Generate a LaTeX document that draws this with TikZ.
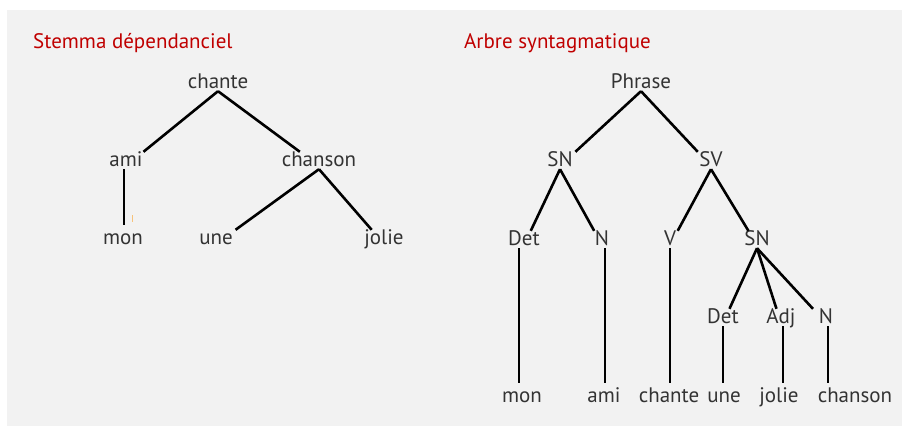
\documentclass[tikz,border=0pt]{standalone}
\usepackage{fontspec}
\setmainfont{PT Sans}
\usetikzlibrary{calc}
\definecolor{bg}{HTML}{F2F2F2}
\definecolor{txt}{HTML}{333333}
\definecolor{ttl}{HTML}{C00000}
\definecolor{tick}{HTML}{F7C27A}
\newcommand\lnk[2]{\draw[branch] (#1.south) -- (intersection of #1.south--#2.base and #2.north west--#2.north east);}
\newcommand\vlnk[3][0]{\draw[branch] ($(#2.south)+(#1,0)$) -- ($(#2.south |- #3.north)+(#1,-5)$);}
\begin{document}
\begin{tikzpicture}[x=1pt,y=-1pt,
  word/.style={anchor=base, text=txt, font=\fontsize{21}{25}\selectfont, inner xsep=1pt, inner ysep=3pt, text height=11pt, text depth=0pt},
  title/.style={anchor=base west, text=ttl, font=\fontsize{21}{25}\selectfont, inner sep=0pt},
  branch/.style={line width=2.6pt, black}
]
\useasboundingbox (0,0) rectangle (906,426);
\fill[white] (0,0) rectangle (906,426);
\fill[bg] (7,10) rectangle (902,426);

% titles
\node[title] (t1) at (33,48) {Stemma dépendanciel};
\node[title] (t2) at (464,48) {Arbre syntagmatique};

% left tree
\node[word] (chante) at (218,88) {chante};
\node[word] (ami) at (126,166) {ami};
\node[word] (chanson) at (319,166) {chanson};
\node[word] (mon) at (123,244) {mon};
\node[word] (une) at (216,244) {une};
\node[word] (jolie) at (384,244) {jolie};

\lnk{chante}{ami}
\lnk{chante}{chanson}
\vlnk[-2]{ami}{mon}
\lnk{chanson}{une}
\lnk{chanson}{jolie}
\draw[tick, line width=1pt] (132,215) -- (132,222);

% right tree
\node[word] (phrase) at (641,88) {Phrase};
\node[word] (sn1) at (560,166) {SN};
\node[word] (sv) at (711,166) {SV};
\node[word] (det1) at (524,245) {Det};
\node[word] (n1) at (602,245) {N};
\node[word] (v) at (670,245) {V};
\node[word] (sn2) at (757,245) {SN};
\node[word] (det2) at (723,323) {Det};
\node[word] (adj) at (781,323) {Adj};
\node[word] (n2) at (826,323) {N};
\node[word] (wmon) at (522,402) {mon};
\node[word] (wami) at (604,402) {ami};
\node[word] (wchante) at (669,402) {chante};
\node[word] (wune) at (724,402) {une};
\node[word] (wjolie) at (779,402) {jolie};
\node[word] (wchanson) at (855,402) {chanson};

\lnk{phrase}{sn1}
\lnk{phrase}{sv}
\lnk{sn1}{det1}
\lnk{sn1}{n1}
\lnk{sv}{v}
\lnk{sv}{sn2}
\lnk{sn2}{det2}
\lnk{sn2}{adj}
\lnk{sn2}{n2}
\vlnk[-5]{det1}{wmon}
\vlnk[3]{n1}{wami}
\vlnk{v}{wchante}
\vlnk{det2}{wune}
\vlnk[2]{adj}{wjolie}
\vlnk[2]{n2}{wchanson}
\end{tikzpicture}
\end{document}
